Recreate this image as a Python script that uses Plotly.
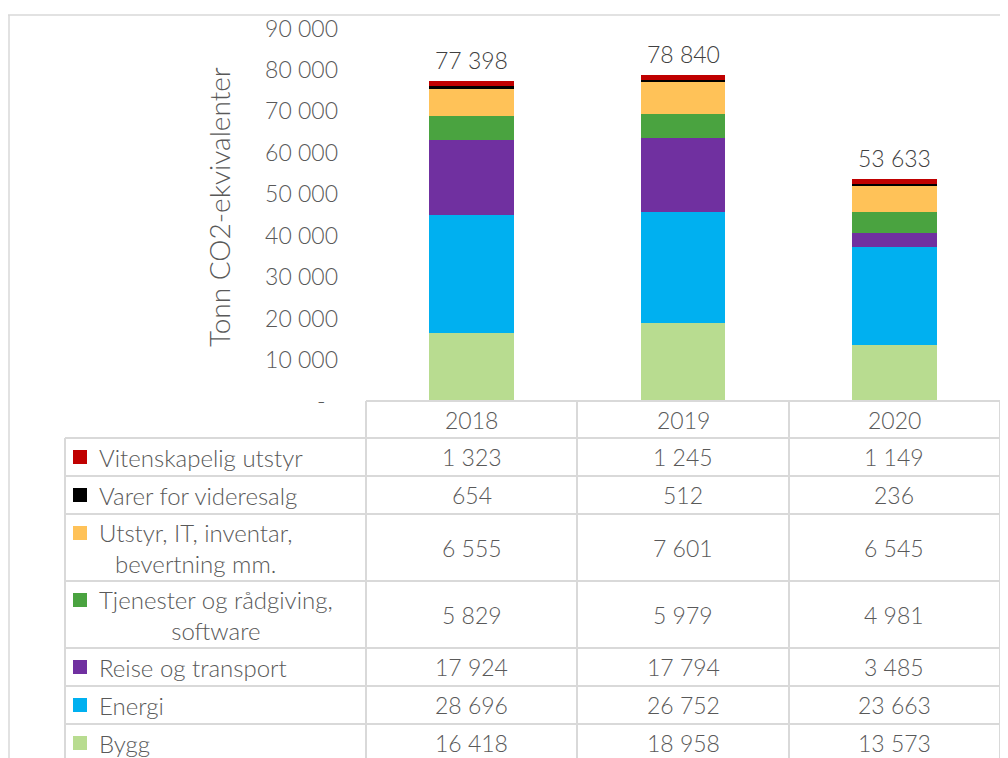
import plotly.graph_objects as go

# ---- data ----
years = ["2018", "2019", "2020"]
series_names = [
    "Vitenskapelig utstyr",
    "Varer for videresalg",
    "Utstyr, IT, inventar,<br>bevertning mm.",
    "Tjenester og rådgiving,<br>software",
    "Reise og transport",
    "Energi",
    "Bygg",
]
vitenskapelig = [1323, 1245, 1149]
varer = [654, 512, 236]
utstyr = [6555, 7601, 6545]
tjenester = [5829, 5979, 4981]
reise = [17924, 17794, 3485]
energi = [28696, 26752, 23663]
bygg = [16418, 18958, 13573]
totals = [77398, 78840, 53633]
y_ticks = [0, 10000, 20000, 30000, 40000, 50000, 60000, 70000, 80000, 90000]
axis_title = "Tonn CO2-ekvivalenter"

series_values = [vitenskapelig, varer, utstyr, tjenester, reise, energi, bygg]
colors = ["#C00000", "#000000", "#FFC258", "#4AA340", "#7030A0", "#00B0F0", "#B8DC90"]

# ---- layout helpers (window pixel -> paper); page body has an 8px margin ----
OFF = 8
W, H = 1000, 750
FONT = "Lato"
TXT = "#595959"
GRID = "#D9D9D9"
FS = 23


def fx(px):
    return (px - OFF) / W


def fy(py):
    return 1 - (py - OFF) / H


def fmt(v):
    return f"{v:,}".replace(",", "\u00a0")


def tfont(size=FS, color=TXT):
    return dict(family=FONT, size=size, color=color, weight=300)


fig = go.Figure()

# stacked bars, bottom first
for name, vals, col in reversed(list(zip(series_names, series_values, colors))):
    fig.add_trace(go.Bar(x=years, y=vals, name=name.replace("<br>", " "),
                         marker=dict(color=col, line=dict(width=0)),
                         hoverinfo="skip"))

annotations = []
# totals above bars
for i, t in enumerate(totals):
    annotations.append(dict(x=i, y=t, xref="x", yref="y", text=fmt(t), showarrow=False,
                            yanchor="bottom", yshift=5, font=tfont(color="#404040")))

# table geometry (window pixels)
plot_left, plot_right = 366, 1000
legend_left = 65
header_top, header_bottom = 401, 438
row_bounds = [438, 476, 514, 581, 648, 686, 724, 762]
col_lines = [366, 577, 789, 1000]

shapes = []
line_style = dict(color=GRID, width=2)
# outer chart border
shapes.append(dict(type="line", xref="paper", yref="paper", x0=fx(8), x1=fx(1010), y0=fy(15), y1=fy(15),
                   line=dict(color=GRID, width=1.5)))
shapes.append(dict(type="line", xref="paper", yref="paper", x0=fx(9), x1=fx(9), y0=fy(15), y1=fy(770),
                   line=dict(color=GRID, width=1.5)))
# header top line
shapes.append(dict(type="line", xref="paper", yref="paper", x0=fx(plot_left), x1=fx(plot_right),
                   y0=fy(header_top), y1=fy(header_top), line=line_style))
# row lines
for rb in row_bounds[:-1]:
    shapes.append(dict(type="line", xref="paper", yref="paper", x0=fx(legend_left), x1=fx(plot_right),
                       y0=fy(rb), y1=fy(rb), line=line_style))
# vertical lines
shapes.append(dict(type="line", xref="paper", yref="paper", x0=fx(legend_left), x1=fx(legend_left),
                   y0=fy(header_bottom), y1=fy(770), line=line_style))
for cx in col_lines:
    shapes.append(dict(type="line", xref="paper", yref="paper", x0=fx(cx), x1=fx(cx),
                       y0=fy(header_top), y1=fy(770), line=line_style))

# year headers
for i, yr in enumerate(years):
    annotations.append(dict(x=i, y=fy((header_top + header_bottom) / 2), xref="x", yref="paper",
                            text=yr, showarrow=False, yanchor="middle", font=tfont()))

# rows: legend key + label + values
for r, (name, vals, col) in enumerate(zip(series_names, series_values, colors)):
    top, bot = row_bounds[r], row_bounds[r + 1]
    cy = (top + bot) / 2
    two_line = "<br>" in name
    key_cy = top + 19 if two_line else cy
    shapes.append(dict(type="rect", xref="paper", yref="paper", x0=fx(73), x1=fx(87),
                       y0=fy(key_cy - 7), y1=fy(key_cy + 7), fillcolor=col, line=dict(width=0)))
    annotations.append(dict(x=fx(97), y=fy(cy), xref="paper", yref="paper", text=name,
                            showarrow=False, xanchor="left", yanchor="middle", align="center",
                            font=tfont(size=24)))
    for i, v in enumerate(vals):
        annotations.append(dict(x=i, y=fy(cy), xref="x", yref="paper", text=fmt(v),
                                showarrow=False, yanchor="middle", font=tfont()))

# axis title
annotations.append(dict(x=fx(219), y=fy(207), xref="paper", yref="paper", text=axis_title,
                        textangle=-90, showarrow=False, xanchor="center", yanchor="middle",
                        font=tfont(size=28)))

fig.update_layout(
    width=W, height=H,
    margin=dict(l=0, r=0, t=0, b=0, autoexpand=False),
    paper_bgcolor="white", plot_bgcolor="white",
    barmode="stack", bargap=0.6,
    showlegend=False,
    hovermode=False,
    font=tfont(),
    xaxis=dict(type="category", domain=[fx(plot_left), fx(plot_right)], range=[-0.5, 2.5],
               showticklabels=False, showgrid=False, zeroline=False, showline=False, ticks="",
               automargin=False),
    yaxis=dict(domain=[fy(401.5), fy(28.5)], range=[0, 90000], tickvals=y_ticks,
               ticktext=["-\u00a0\u00a0"] + [fmt(v) for v in y_ticks[1:]],
               showgrid=False, zeroline=False, showline=False, ticks="", automargin=False,
               ticklabelstandoff=27, tickfont=tfont()),
    shapes=shapes,
    annotations=annotations,
)

fig.write_html("out.html")
